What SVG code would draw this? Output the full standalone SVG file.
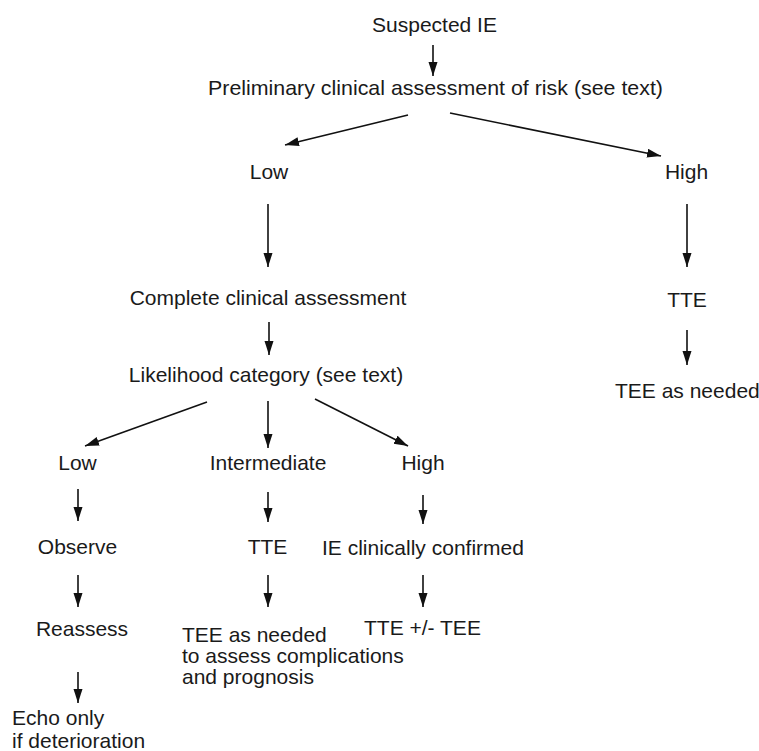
<svg xmlns="http://www.w3.org/2000/svg" width="759" height="751" viewBox="0 0 759 751">
<style>
text{font-family:"Liberation Sans",Arial,Helvetica,sans-serif;font-size:21px;fill:#1a1a1a}
.m{text-anchor:middle}
.c line{stroke:#111;stroke-width:1.6;marker-end:url(#ah)}
</style>
<defs>
<marker id="ah" markerUnits="userSpaceOnUse" markerWidth="15" markerHeight="10" refX="14" refY="4.5" orient="auto">
<path d="M0,0 L14,4.5 L0,9 z" fill="#111"/>
</marker>
</defs>
<rect width="759" height="751" fill="#fff"/>
<g id="connectors" class="c">
<line x1="433" y1="45" x2="433" y2="76"/>
<line x1="408" y1="115" x2="285" y2="145"/>
<line x1="450" y1="113" x2="661" y2="156"/>
<line x1="268" y1="204" x2="268" y2="267"/>
<line x1="687" y1="204" x2="687" y2="267"/>
<line x1="269" y1="322" x2="269" y2="355"/>
<line x1="687" y1="330" x2="687" y2="365"/>
<line x1="207" y1="402" x2="85" y2="446"/>
<line x1="268" y1="401" x2="268" y2="448"/>
<line x1="315" y1="399" x2="408" y2="446"/>
<line x1="78" y1="489" x2="78" y2="521"/>
<line x1="268" y1="492" x2="268" y2="522"/>
<line x1="423" y1="495" x2="423" y2="524"/>
<line x1="78" y1="575" x2="78" y2="607"/>
<line x1="268" y1="575" x2="268" y2="607"/>
<line x1="423" y1="575" x2="423" y2="607"/>
<line x1="78" y1="672" x2="78" y2="703"/>
</g>
<g id="suspected"><text class="m" x="434.5" y="32">Suspected IE</text></g>
<g id="preliminary"><text x="208" y="95" textLength="455" lengthAdjust="spacingAndGlyphs">Preliminary clinical assessment of risk (see text)</text></g>
<g id="low-risk"><text class="m" x="269" y="179">Low</text></g>
<g id="high-risk"><text class="m" x="686.5" y="179">High</text></g>
<g id="complete"><text class="m" x="268" y="305">Complete clinical assessment</text></g>
<g id="tte-right"><text class="m" x="687" y="307">TTE</text></g>
<g id="likelihood"><text class="m" x="266" y="382">Likelihood category (see text)</text></g>
<g id="tee-right"><text x="615" y="398">TEE as needed</text></g>
<g id="low-like"><text class="m" x="77.5" y="470">Low</text></g>
<g id="intermediate"><text class="m" x="268" y="470">Intermediate</text></g>
<g id="high-like"><text class="m" x="423" y="470">High</text></g>
<g id="observe"><text class="m" x="77.5" y="554">Observe</text></g>
<g id="tte-mid"><text class="m" x="267.5" y="554">TTE</text></g>
<g id="confirmed"><text x="322" y="555">IE clinically confirmed</text></g>
<g id="reassess"><text class="m" x="82" y="636">Reassess</text></g>
<g id="tee-mid"><text x="182" y="642">TEE as needed</text><text x="182" y="663">to assess complications</text><text x="182" y="684">and prognosis</text></g>
<g id="tte-tee"><text x="364" y="635">TTE +/- TEE</text></g>
<g id="echo"><text x="12" y="725">Echo only</text><text x="12" y="748">if deterioration</text></g>
</svg>
